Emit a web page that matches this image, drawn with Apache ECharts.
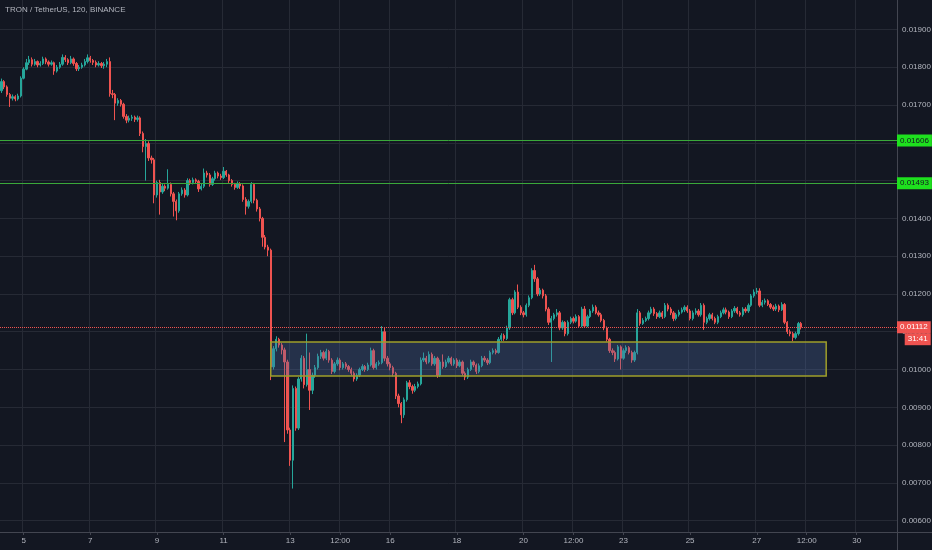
<!DOCTYPE html>
<html>
<head>
<meta charset="utf-8">
<script src="https://cdn.jsdelivr.net/npm/echarts@6/dist/echarts.min.js"></script>
<style>
html,body{margin:0;padding:0;background:#131722;}
#chart{width:932px;height:550px;}
</style>
</head>
<body>
<div id="chart"></div>
<script>
// ---- data (prices in units of 0.00001 USDT) ----
const PRICE_UNIT = 1e-5;
const firstOpenE5 = 1738;
const closeE5 = [
1762,1748,1728,1718,1722,1716,1724,1771,1795,1812,
1820,1808,1815,1806,1810,1822,1814,1808,1812,1790,
1800,1808,1826,1820,1812,1822,1810,1796,1800,1806,
1815,1825,1818,1813,1806,1810,1804,1808,1815,1730,
1728,1705,1712,1702,1670,1660,1665,1668,1662,1666,
1625,1590,1598,1560,1555,1462,1495,1470,1485,1480,
1490,1465,1445,1420,1465,1475,1462,1500,1495,1502,
1498,1478,1485,1520,1515,1490,1505,1520,1512,1508,
1525,1515,1500,1490,1482,1492,1486,1450,1432,1445,
1490,1448,1425,1400,1350,1324,1316,1007,1055,1080,
1065,1052,1020,840,760,950,845,975,1030,960,
1000,945,985,1005,1035,1045,1030,1048,1025,995,
1015,1025,1005,1015,1008,1000,990,975,985,1000,
1008,1000,1012,1050,1005,1015,1018,1100,1030,1015,
1005,990,930,910,880,920,965,955,945,955,
962,1025,1030,1020,1040,1015,1030,985,1020,1008,
1020,1030,1015,1025,1010,1020,990,980,1000,1020,
1012,995,1010,1030,1025,1018,1045,1050,1045,1080,
1090,1082,1110,1185,1150,1205,1165,1150,1145,1170,
1190,1262,1240,1200,1210,1195,1160,1125,1135,1145,
1150,1110,1125,1095,1125,1135,1128,1140,1115,1160,
1115,1140,1155,1165,1150,1145,1130,1110,1080,1050,
1045,1028,1060,1030,1050,1058,1045,1025,1045,1150,
1122,1130,1135,1150,1160,1148,1140,1150,1140,1170,
1160,1150,1135,1145,1152,1158,1165,1155,1135,1150,
1155,1145,1170,1125,1135,1145,1135,1125,1140,1150,
1158,1152,1140,1155,1162,1150,1145,1160,1155,1170,
1195,1205,1208,1170,1178,1182,1172,1165,1160,1168,
1158,1172,1125,1100,1095,1085,1095,1122,1112
];
const highE5 = [
1770,1766,1752,1732,1728,1726,1730,1776,1800,1822,
1830,1826,1822,1818,1816,1828,1826,1818,1818,1815,
1806,1814,1834,1832,1824,1830,1826,1814,1806,1812,
1822,1834,1830,1822,1818,1816,1814,1814,1822,1826,
1740,1732,1718,1716,1706,1676,1672,1674,1672,1672,
1670,1630,1610,1604,1566,1560,1500,1502,1492,1490,
1530,1495,1470,1450,1470,1482,1480,1506,1505,1508,
1506,1502,1492,1532,1526,1520,1510,1526,1524,1518,
1536,1528,1518,1504,1494,1498,1496,1490,1456,1450,
1496,1494,1452,1430,1404,1356,1330,1320,1062,1088,
1084,1070,1058,1026,846,958,955,980,1038,1036,
1095,1045,992,1012,1042,1052,1050,1055,1052,1030,
1020,1032,1030,1020,1020,1012,1005,995,990,1005,
1014,1012,1018,1058,1055,1020,1024,1115,1110,1036,
1020,1010,994,936,914,926,970,972,960,962,
968,1032,1045,1036,1048,1045,1036,1034,1026,1040,
1026,1036,1034,1030,1030,1026,1024,995,1005,1026,
1024,1016,1016,1036,1036,1030,1050,1056,1055,1086,
1096,1095,1116,1190,1190,1210,1225,1170,1155,1175,
1196,1268,1277,1245,1216,1214,1200,1165,1142,1150,
1160,1155,1130,1128,1130,1140,1140,1146,1144,1166,
1168,1145,1160,1172,1170,1156,1150,1134,1114,1084,
1056,1050,1065,1064,1056,1064,1062,1050,1050,1160,
1155,1136,1140,1156,1166,1165,1152,1156,1155,1176,
1175,1165,1155,1150,1158,1164,1170,1170,1160,1156,
1162,1160,1176,1175,1140,1150,1150,1140,1145,1156,
1164,1164,1156,1160,1168,1166,1155,1165,1165,1175,
1200,1212,1216,1215,1184,1188,1186,1176,1170,1174,
1172,1178,1176,1128,1106,1100,1100,1126,1126
];
const lowE5 = [
1732,1742,1722,1695,1712,1710,1712,1720,1768,1792,
1806,1802,1804,1800,1802,1806,1808,1802,1804,1780,
1786,1796,1804,1814,1806,1808,1804,1790,1790,1796,
1802,1810,1812,1806,1800,1802,1798,1796,1800,1722,
1718,1660,1698,1696,1664,1652,1654,1658,1655,1656,
1618,1575,1500,1552,1545,1440,1455,1410,1465,1472,
1476,1458,1405,1395,1415,1460,1455,1458,1488,1490,
1492,1470,1474,1480,1508,1484,1486,1500,1506,1502,
1504,1510,1494,1484,1476,1478,1478,1444,1410,1426,
1440,1440,1418,1392,1325,1318,1300,972,1000,1048,
1058,1040,808,830,745,685,838,840,968,950,
955,893,935,978,1000,1028,1024,1025,1018,988,
990,1010,998,1000,1002,994,984,968,970,980,
996,994,996,1008,1000,1000,1010,1014,1022,1008,
998,982,922,900,858,872,915,948,936,940,
950,958,1020,1014,1016,1010,1010,978,980,1002,
1004,1016,1010,1010,1004,1006,984,972,975,996,
1006,988,990,1006,1020,1012,1014,1040,1040,1042,
1075,1076,1078,1105,1144,1146,1160,1144,1138,1140,
1165,1186,1232,1194,1195,1188,1154,1118,1020,1130,
1140,1104,1105,1088,1090,1120,1122,1124,1110,1112,
1110,1112,1136,1150,1146,1140,1125,1104,1074,1044,
1038,1020,1024,1000,1026,1044,1040,1018,1020,1040,
1116,1118,1126,1130,1146,1142,1134,1136,1134,1136,
1154,1144,1128,1130,1140,1148,1152,1150,1130,1130,
1145,1140,1140,1105,1120,1130,1130,1120,1120,1136,
1146,1146,1134,1136,1150,1146,1140,1140,1150,1150,
1166,1190,1200,1165,1165,1172,1168,1160,1155,1155,
1152,1155,1120,1094,1088,1075,1080,1090,1106
];

// time slots: 2-hour candles starting 2020-03-04 08:00, axis runs to 2020-03-31 04:00
const startUTC = Date.UTC(2020, 2, 4, 8);
const candleHours = 2;
const slotCount = 323;

// x-axis tick labels (slot index -> text)
const tickIndex = [8, 32, 56, 80, 104, 122, 140, 164, 188, 206, 224, 248, 272, 290, 308];
const tickText  = ['5', '7', '9', '11', '13', '12:00', '16', '18', '20', '12:00', '23', '25', '27', '12:00', '30'];

// y-axis grid values
const priceTicks = [0.006, 0.007, 0.008, 0.009, 0.010, 0.011, 0.012, 0.013, 0.014, 0.015, 0.016, 0.017, 0.018, 0.019];
const yMin = 0.0057, yMax = 0.01978;

// horizontal levels and last price
const levelLines = [0.01606, 0.01493];
const lastPrice = 0.01112;
const countdown = '31:41';

// highlighted zone
const zoneStart = 97, zoneEnd = 297;
const zoneTop = 0.01073, zoneBottom = 0.00983;

// ---- build ----
const pad = n => (n < 10 ? '0' : '') + n;
const categories = [];
for (let k = 0; k < slotCount; k++) {
  const d = new Date(startUTC + k * candleHours * 3600e3);
  categories.push('2020-' + pad(d.getUTCMonth() + 1) + '-' + pad(d.getUTCDate()) + ' ' + pad(d.getUTCHours()) + ':00');
}
const tickMap = {};
tickIndex.forEach((ix, j) => { tickMap[ix] = tickText[j]; });
const isTick = (idx) => tickMap[idx] !== undefined;

const candles = closeE5.map((c, i) => {
  const o = i === 0 ? firstOpenE5 : closeE5[i - 1];
  return [o * PRICE_UNIT, c * PRICE_UNIT, lowE5[i] * PRICE_UNIT, highE5[i] * PRICE_UNIT];
});

const UP = '#26a69a', DOWN = '#ef5350';
const TXT = '#b2b5be', GRIDC = '#262a35', AXISC = '#434651';
const FONT = '"Liberation Sans", Arial, sans-serif';

const chart = echarts.init(document.getElementById('chart'));
chart.setOption({
  backgroundColor: '#131722',
  animation: false,
  title: {
    text: 'TRON / TetherUS, 120, BINANCE',
    left: 5, top: 6, padding: 0,
    textStyle: { color: TXT, fontSize: 8, fontWeight: 'normal', fontFamily: FONT }
  },
  graphic: [
    { type: 'line', shape: { x1: 897.5, y1: 0, x2: 897.5, y2: 550 }, style: { stroke: AXISC, lineWidth: 1 }, silent: true, z: 0 },
    { type: 'line', shape: { x1: 0, y1: 532.5, x2: 932, y2: 532.5 }, style: { stroke: AXISC, lineWidth: 1 }, silent: true, z: 0 }
  ],
  grid: { left: 0, right: 35, top: 0, bottom: 18, containLabel: false, outerBoundsMode: 'none' },
  xAxis: {
    type: 'category',
    data: categories,
    boundaryGap: true,
    axisLine: { lineStyle: { color: AXISC } },
    axisTick: { show: true, interval: (i) => isTick(i), alignWithLabel: true, length: 3, lineStyle: { color: AXISC } },
    axisLabel: { interval: (i) => isTick(i), formatter: (v, i) => tickMap[i] || '', color: TXT, fontSize: 8, margin: 5, fontFamily: FONT },
    splitLine: { show: true, interval: (i) => isTick(i), lineStyle: { color: GRIDC } }
  },
  yAxis: {
    type: 'value',
    position: 'right',
    min: yMin, max: yMax, interval: 0.0001,
    axisLine: { show: true, lineStyle: { color: AXISC } },
    axisTick: { show: false },
    splitLine: { show: false },
    axisLabel: {
      color: TXT, fontSize: 8, margin: 5, fontFamily: FONT,
      formatter: (v) => {
        const k = v * 1000;
        return Math.abs(k - Math.round(k)) < 1e-6 ? v.toFixed(5) : '';
      }
    }
  },
  series: [
    {
      type: 'line', name: 'grid', data: [], silent: true,
      markLine: {
        silent: true, z: 1, precision: 5, symbol: ['none', 'none'],
        label: { show: false },
        lineStyle: { color: GRIDC, width: 1, type: 'solid' },
        data: priceTicks.map(v => ({ yAxis: v }))
      }
    },
    {
      type: 'candlestick',
      name: 'TRXUSDT',
      data: candles,
      barWidth: '65%',
      itemStyle: { color: UP, color0: DOWN, borderColor: UP, borderColor0: DOWN, borderWidth: 1 },
      markArea: {
        silent: true, z: 3,
        itemStyle: { color: 'rgba(80,110,170,0.30)', borderColor: '#9e9e2a', borderWidth: 1.5 },
        data: [[{ xAxis: zoneStart, yAxis: zoneTop }, { xAxis: zoneEnd, yAxis: zoneBottom }]]
      },
      markLine: {
        silent: true, precision: 5, symbol: ['none', 'none'],
        data: levelLines.map(v => ({
          yAxis: v,
          lineStyle: { color: '#3aa83a', width: 1, type: 'solid' },
          label: {
            show: true, position: 'end', distance: 0,
            formatter: (p) => p.value.toFixed(5),
            backgroundColor: '#1ee01e', color: '#131722', fontSize: 8, fontFamily: FONT,
            padding: [2, 3, 2, 3]
          }
        })).concat([{
          yAxis: lastPrice,
          lineStyle: { color: DOWN, width: 1, type: 'dotted' },
          label: {
            show: true, position: 'end', distance: 0,
            formatter: (p) => '{e|}\n{a|' + p.value.toFixed(5) + '}\n{b|' + countdown + '}',
            rich: {
              e: { height: 12, lineHeight: 12 },
              a: { height: 12, lineHeight: 12, padding: [0, 3, 0, 3], backgroundColor: DOWN, color: '#ffffff', fontSize: 8, fontFamily: FONT },
              b: { height: 12, lineHeight: 12, padding: [0, 3, 0, 3], backgroundColor: DOWN, color: '#ffffff', fontSize: 8, fontFamily: FONT, align: 'right' }
            }
          }
        }])
      }
    }
  ]
});
</script>
</body>
</html>
